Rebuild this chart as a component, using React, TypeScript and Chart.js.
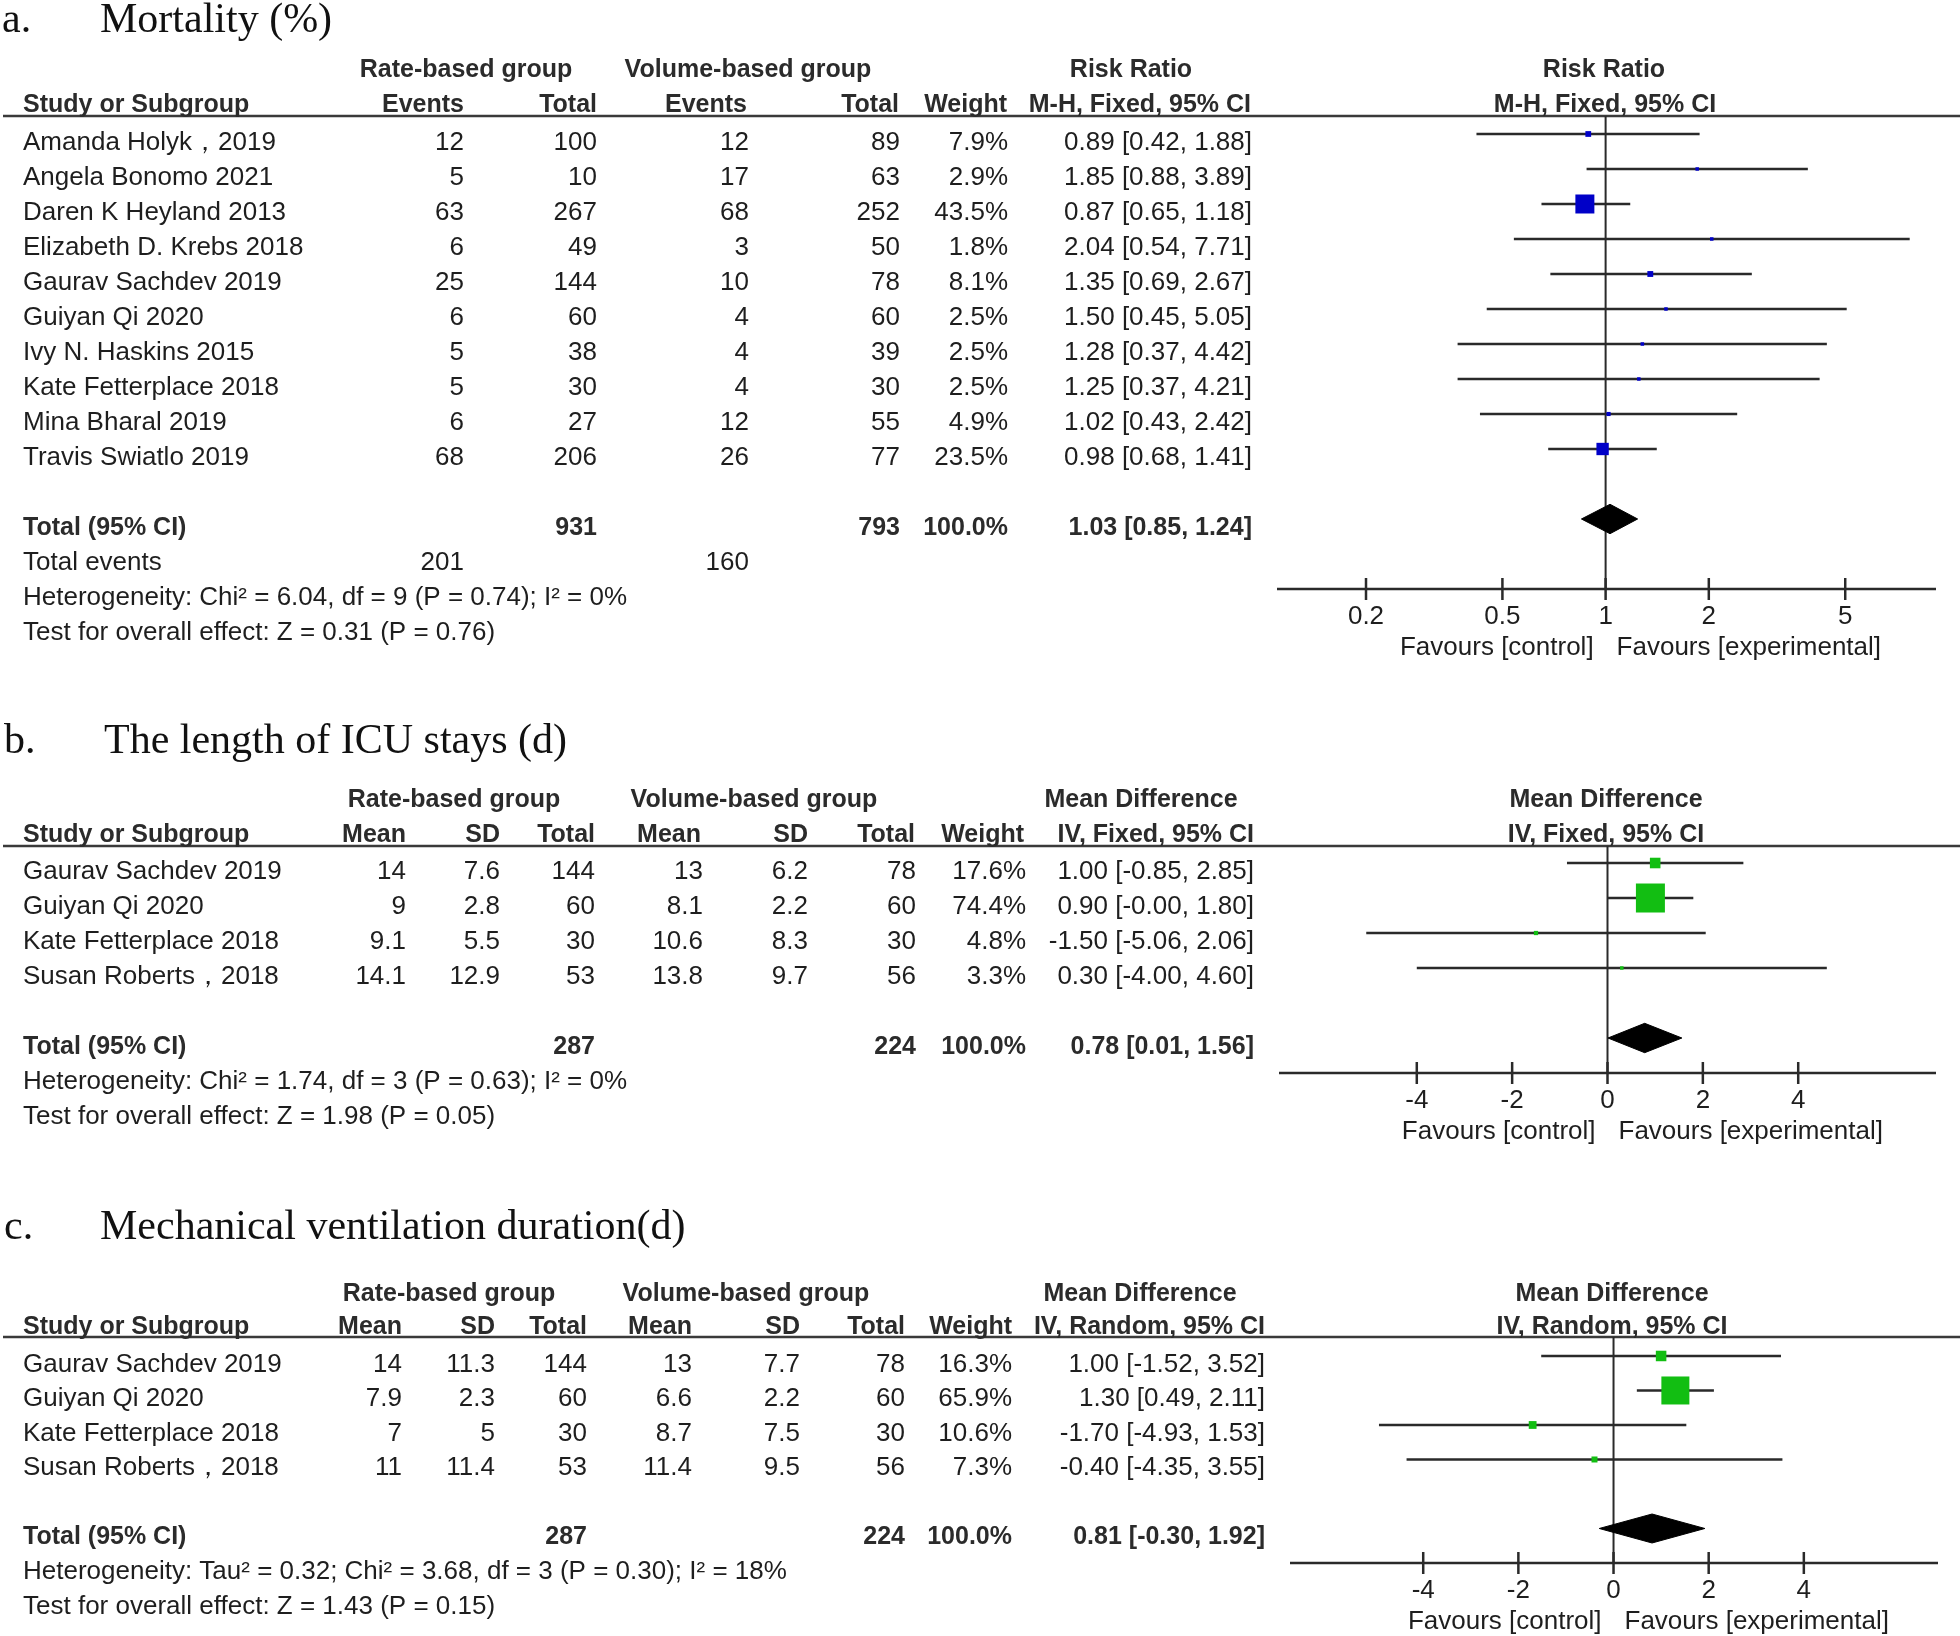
import React, { useEffect, useRef } from "react";
import { Chart, registerables } from "chart.js";

Chart.register(...registerables);

// ================= Panel a: Mortality (%) =================
const A_STUDIES = [
  "Amanda Holyk，2019",
  "Angela Bonomo 2021",
  "Daren K Heyland 2013",
  "Elizabeth D. Krebs 2018",
  "Gaurav Sachdev 2019",
  "Guiyan Qi 2020",
  "Ivy N. Haskins 2015",
  "Kate Fetterplace 2018",
  "Mina Bharal 2019",
  "Travis Swiatlo 2019",
];
const A_RATE_EVENTS = [12, 5, 63, 6, 25, 6, 5, 5, 6, 68];
const A_RATE_TOTAL = [100, 10, 267, 49, 144, 60, 38, 30, 27, 206];
const A_VOL_EVENTS = [12, 17, 68, 3, 10, 4, 4, 4, 12, 26];
const A_VOL_TOTAL = [89, 63, 252, 50, 78, 60, 39, 30, 55, 77];
const A_WEIGHT = [7.9, 2.9, 43.5, 1.8, 8.1, 2.5, 2.5, 2.5, 4.9, 23.5];
const A_RR = [0.89, 1.85, 0.87, 2.04, 1.35, 1.5, 1.28, 1.25, 1.02, 0.98];
const A_LO = [0.42, 0.88, 0.65, 0.54, 0.69, 0.45, 0.37, 0.37, 0.43, 0.68];
const A_HI = [1.88, 3.89, 1.18, 7.71, 2.67, 5.05, 4.42, 4.21, 2.42, 1.41];
const A_POOLED = [1.03, 0.85, 1.24];
const A_TOTALS = [931, 793];
const A_TOTAL_EVENTS = [201, 160];
const A_TICKS = [0.2, 0.5, 1, 2, 5];
const A_HET = "Heterogeneity: Chi² = 6.04, df = 9 (P = 0.74); I² = 0%";
const A_TEST = "Test for overall effect: Z = 0.31 (P = 0.76)";

// ================= Panel b: The length of ICU stays (d) =================
const B_STUDIES = ["Gaurav Sachdev 2019", "Guiyan Qi 2020", "Kate Fetterplace 2018", "Susan Roberts，2018"];
const B_RATE_MEAN = [14, 9, 9.1, 14.1];
const B_RATE_SD = [7.6, 2.8, 5.5, 12.9];
const B_RATE_TOTAL = [144, 60, 30, 53];
const B_VOL_MEAN = [13, 8.1, 10.6, 13.8];
const B_VOL_SD = [6.2, 2.2, 8.3, 9.7];
const B_VOL_TOTAL = [78, 60, 30, 56];
const B_WEIGHT = [17.6, 74.4, 4.8, 3.3];
const B_MD = [1.0, 0.9, -1.5, 0.3];
const B_LO = [-0.85, -0.004, -5.06, -4.0];
const B_HI = [2.85, 1.8, 2.06, 4.6];
const B_POOLED = [0.78, 0.01, 1.56];
const B_TOTALS = [287, 224];
const B_TICKS = [-4, -2, 0, 2, 4];
const B_HET = "Heterogeneity: Chi² = 1.74, df = 3 (P = 0.63); I² = 0%";
const B_TEST = "Test for overall effect: Z = 1.98 (P = 0.05)";

// ================= Panel c: Mechanical ventilation duration(d) =================
const C_STUDIES = ["Gaurav Sachdev 2019", "Guiyan Qi 2020", "Kate Fetterplace 2018", "Susan Roberts，2018"];
const C_RATE_MEAN = [14, 7.9, 7, 11];
const C_RATE_SD = [11.3, 2.3, 5, 11.4];
const C_RATE_TOTAL = [144, 60, 30, 53];
const C_VOL_MEAN = [13, 6.6, 8.7, 11.4];
const C_VOL_SD = [7.7, 2.2, 7.5, 9.5];
const C_VOL_TOTAL = [78, 60, 30, 56];
const C_WEIGHT = [16.3, 65.9, 10.6, 7.3];
const C_MD = [1.0, 1.3, -1.7, -0.4];
const C_LO = [-1.52, 0.49, -4.93, -4.35];
const C_HI = [3.52, 2.11, 1.53, 3.55];
const C_POOLED = [0.81, -0.3, 1.92];
const C_TOTALS = [287, 224];
const C_TICKS = [-4, -2, 0, 2, 4];
const C_HET = "Heterogeneity: Tau² = 0.32; Chi² = 3.68, df = 3 (P = 0.30); I² = 18%";
const C_TEST = "Test for overall effect: Z = 1.43 (P = 0.15)";

// ================= styling =================
const SANS = '"Liberation Sans", Arial, sans-serif';
const REG = `26px ${SANS}`;
const BOLD = `bold 25px ${SANS}`;
const TITLE_FONT = `42px "Liberation Serif", "Times New Roman", serif`;
const INK = "#1e1e1e";
const LINE = "#2a2a2a";

const ci = (e: number, l: number, h: number) => `${e.toFixed(2)} [${l.toFixed(2)}, ${h.toFixed(2)}]`;
const pct = (w: number) => `${w.toFixed(1)}%`;

type Cell = [string, number, CanvasTextAlign];

interface Spec {
  top: number;
  height: number;
  pad: { left: number; right: number; top: number; bottom: number };
  xType: "logarithmic" | "linear";
  xMin: number;
  xMax: number;
  yMin: number;
  yMax: number;
  ticks: number[];
  nullValue: number;
  color: string;
  maxSide: number;
  est: number[];
  lo: number[];
  hi: number[];
  weight: number[];
  pooled: number[];
  totalRow: number;
  letter: string;
  letterX: number;
  title: string;
  titleX: number;
  titleBase: number;
  head1Off: number;
  head2Off: number;
  head1: Cell[];
  head2: Cell[];
  rows: string[][];
  colX: number[];
  totalCells: Cell[];
  extra: { row: number; cells: Cell[] }[];
}

const SPEC_A: Spec = {
  top: 0,
  height: 700,
  pad: { left: 1277, right: 24, top: 116, bottom: 111 },
  xType: "logarithmic",
  xMin: 0.11,
  xMax: 9.2,
  yMin: -0.514,
  yMax: 13,
  ticks: A_TICKS,
  nullValue: 1,
  color: "#0000C8",
  maxSide: 19,
  est: A_RR,
  lo: A_LO,
  hi: A_HI,
  weight: A_WEIGHT,
  pooled: A_POOLED,
  totalRow: 11,
  letter: "a.",
  letterX: 2,
  title: "Mortality (%)",
  titleX: 100,
  titleBase: 32,
  head1Off: 39,
  head2Off: 4,
  head1: [
    ["Rate-based group", 466, "center"],
    ["Volume-based group", 748, "center"],
    ["Risk Ratio", 1131, "center"],
    ["Risk Ratio", 1604, "center"],
  ],
  head2: [
    ["Study or Subgroup", 23, "left"],
    ["Events", 464, "right"],
    ["Total", 597, "right"],
    ["Events", 747, "right"],
    ["Total", 899, "right"],
    ["Weight", 1007, "right"],
    ["M-H, Fixed, 95% CI", 1251, "right"],
    ["M-H, Fixed, 95% CI", 1605, "center"],
  ],
  rows: A_STUDIES.map((s, i) => [
    s,
    String(A_RATE_EVENTS[i]),
    String(A_RATE_TOTAL[i]),
    String(A_VOL_EVENTS[i]),
    String(A_VOL_TOTAL[i]),
    pct(A_WEIGHT[i]),
    ci(A_RR[i], A_LO[i], A_HI[i]),
  ]),
  colX: [23, 464, 597, 749, 900, 1008, 1252],
  totalCells: [
    ["Total (95% CI)", 23, "left"],
    [String(A_TOTALS[0]), 597, "right"],
    [String(A_TOTALS[1]), 900, "right"],
    ["100.0%", 1008, "right"],
    [ci(A_POOLED[0], A_POOLED[1], A_POOLED[2]), 1252, "right"],
  ],
  extra: [
    {
      row: 12,
      cells: [
        ["Total events", 23, "left"],
        [String(A_TOTAL_EVENTS[0]), 464, "right"],
        [String(A_TOTAL_EVENTS[1]), 749, "right"],
      ],
    },
    { row: 13, cells: [[A_HET, 23, "left"]] },
    { row: 14, cells: [[A_TEST, 23, "left"]] },
  ],
};

const SPEC_B: Spec = {
  top: 700,
  height: 480,
  pad: { left: 1279, right: 24, top: 146, bottom: 107 },
  xType: "linear",
  xMin: -6.89,
  xMax: 6.89,
  yMin: -0.486,
  yMax: 6,
  ticks: B_TICKS,
  nullValue: 0,
  color: "#12BE12",
  maxSide: 29,
  est: B_MD,
  lo: B_LO,
  hi: B_HI,
  weight: B_WEIGHT,
  pooled: B_POOLED,
  totalRow: 5,
  letter: "b.",
  letterX: 4,
  title: "The length of ICU stays (d)",
  titleX: 104,
  titleBase: 53,
  head1Off: 39,
  head2Off: 4,
  head1: [
    ["Rate-based group", 454, "center"],
    ["Volume-based group", 754, "center"],
    ["Mean Difference", 1141, "center"],
    ["Mean Difference", 1606, "center"],
  ],
  head2: [
    ["Study or Subgroup", 23, "left"],
    ["Mean", 406, "right"],
    ["SD", 500, "right"],
    ["Total", 595, "right"],
    ["Mean", 701, "right"],
    ["SD", 808, "right"],
    ["Total", 915, "right"],
    ["Weight", 1024, "right"],
    ["IV, Fixed, 95% CI", 1254, "right"],
    ["IV, Fixed, 95% CI", 1606, "center"],
  ],
  rows: B_STUDIES.map((s, i) => [
    s,
    String(B_RATE_MEAN[i]),
    String(B_RATE_SD[i]),
    String(B_RATE_TOTAL[i]),
    String(B_VOL_MEAN[i]),
    String(B_VOL_SD[i]),
    String(B_VOL_TOTAL[i]),
    pct(B_WEIGHT[i]),
    ci(B_MD[i], B_LO[i], B_HI[i]),
  ]),
  colX: [23, 406, 500, 595, 703, 808, 916, 1026, 1254],
  totalCells: [
    ["Total (95% CI)", 23, "left"],
    [String(B_TOTALS[0]), 595, "right"],
    [String(B_TOTALS[1]), 916, "right"],
    ["100.0%", 1026, "right"],
    [ci(B_POOLED[0], B_POOLED[1], B_POOLED[2]), 1254, "right"],
  ],
  extra: [
    { row: 6, cells: [[B_HET, 23, "left"]] },
    { row: 7, cells: [[B_TEST, 23, "left"]] },
  ],
};

const SPEC_C: Spec = {
  top: 1180,
  height: 456,
  pad: { left: 1290, right: 22, top: 157, bottom: 73 },
  xType: "linear",
  xMin: -6.8,
  xMax: 6.82,
  yMin: -0.55,
  yMax: 6,
  ticks: C_TICKS,
  nullValue: 0,
  color: "#12BE12",
  maxSide: 28,
  est: C_MD,
  lo: C_LO,
  hi: C_HI,
  weight: C_WEIGHT,
  pooled: C_POOLED,
  totalRow: 5,
  letter: "c.",
  letterX: 4,
  title: "Mechanical ventilation duration(d)",
  titleX: 100,
  titleBase: 59,
  head1Off: 36,
  head2Off: 3,
  head1: [
    ["Rate-based group", 449, "center"],
    ["Volume-based group", 746, "center"],
    ["Mean Difference", 1140, "center"],
    ["Mean Difference", 1612, "center"],
  ],
  head2: [
    ["Study or Subgroup", 23, "left"],
    ["Mean", 402, "right"],
    ["SD", 495, "right"],
    ["Total", 587, "right"],
    ["Mean", 692, "right"],
    ["SD", 800, "right"],
    ["Total", 905, "right"],
    ["Weight", 1012, "right"],
    ["IV, Random, 95% CI", 1265, "right"],
    ["IV, Random, 95% CI", 1612, "center"],
  ],
  rows: C_STUDIES.map((s, i) => [
    s,
    String(C_RATE_MEAN[i]),
    String(C_RATE_SD[i]),
    String(C_RATE_TOTAL[i]),
    String(C_VOL_MEAN[i]),
    String(C_VOL_SD[i]),
    String(C_VOL_TOTAL[i]),
    pct(C_WEIGHT[i]),
    ci(C_MD[i], C_LO[i], C_HI[i]),
  ]),
  colX: [23, 402, 495, 587, 692, 800, 905, 1012, 1265],
  totalCells: [
    ["Total (95% CI)", 23, "left"],
    [String(C_TOTALS[0]), 587, "right"],
    [String(C_TOTALS[1]), 905, "right"],
    ["100.0%", 1012, "right"],
    [ci(C_POOLED[0], C_POOLED[1], C_POOLED[2]), 1265, "right"],
  ],
  extra: [
    { row: 6, cells: [[C_HET, 23, "left"]] },
    { row: 7, cells: [[C_TEST, 23, "left"]] },
  ],
};

function buildConfig(s: Spec): any {
  const wmax = Math.max(...s.weight);
  const ciSets = s.est.map((_, i) => ({
    type: "scatter",
    showLine: true,
    data: [
      { x: s.lo[i], y: i },
      { x: s.hi[i], y: i },
    ],
    borderColor: LINE,
    borderWidth: 2.5,
    pointRadius: 0,
    fill: false,
    order: 2,
  }));
  const squares = {
    type: "scatter",
    data: s.est.map((v, i) => ({ x: v, y: i })),
    pointStyle: "rect",
    pointRadius: s.weight.map((w) => Math.max(3.5, s.maxSide * Math.pow(w / wmax, 0.7)) / Math.SQRT2),
    pointBackgroundColor: s.color,
    backgroundColor: s.color,
    pointBorderWidth: 0,
    borderWidth: 0,
    order: 0,
  };
  const [pe, pl, ph] = s.pooled;
  const T = s.totalRow;
  const h = 0.42;
  const diamond = {
    type: "scatter",
    showLine: true,
    data: [
      { x: pl, y: T },
      { x: pe, y: T - h },
      { x: ph, y: T },
      { x: pe, y: T + h },
      { x: pl, y: T },
    ],
    borderColor: "#000",
    backgroundColor: "#000",
    borderWidth: 1,
    pointRadius: 0,
    fill: "shape",
    order: 1,
  };

  const plugin = {
    id: "forestText",
    beforeDatasetsDraw(chart: any) {
      const { ctx, chartArea: ca, scales } = chart;
      const x = scales.x;
      const seg = (x1: number, y1: number, x2: number, y2: number) => {
        ctx.beginPath();
        ctx.moveTo(x1, y1);
        ctx.lineTo(x2, y2);
        ctx.stroke();
      };
      ctx.save();
      ctx.strokeStyle = "#3a3a3a";
      ctx.lineWidth = 2.5;
      seg(3, ca.top, 1960, ca.top);
      ctx.strokeStyle = LINE;
      seg(ca.left, ca.bottom, ca.right, ca.bottom);
      const zx = x.getPixelForValue(s.nullValue);
      ctx.lineWidth = 2;
      seg(zx, ca.top, zx, ca.bottom);
      ctx.lineWidth = 2.5;
      ctx.fillStyle = INK;
      ctx.font = REG;
      ctx.textBaseline = "alphabetic";
      s.ticks.forEach((t) => {
        const px = x.getPixelForValue(t);
        seg(px, ca.bottom - 11, px, ca.bottom + 11);
        ctx.textAlign = "center";
        ctx.fillText(String(t), px, ca.bottom + 35);
      });
      ctx.textAlign = "right";
      ctx.fillText("Favours [control]", zx - 12, ca.bottom + 66);
      ctx.textAlign = "left";
      ctx.fillText("Favours [experimental]", zx + 11, ca.bottom + 66);
      ctx.restore();
    },
    afterDraw(chart: any) {
      const { ctx, chartArea: ca, scales } = chart;
      const y = scales.y;
      const txt = (t: string, px: number, py: number, al: CanvasTextAlign, font: string) => {
        ctx.font = font;
        ctx.textAlign = al;
        ctx.fillText(t, px, py);
      };
      ctx.save();
      ctx.textBaseline = "alphabetic";
      ctx.fillStyle = "#111";
      txt(s.letter, s.letterX, s.titleBase, "left", TITLE_FONT);
      txt(s.title, s.titleX, s.titleBase, "left", TITLE_FONT);
      ctx.fillStyle = "#2b2b2b";
      s.head1.forEach(([t, px, al]) => txt(t, px, ca.top - s.head1Off, al, BOLD));
      s.head2.forEach(([t, px, al]) => txt(t, px, ca.top - s.head2Off, al, BOLD));
      ctx.fillStyle = INK;
      s.rows.forEach((cells, i) => {
        const py = y.getPixelForValue(i) + 16;
        cells.forEach((c, j) => txt(c, s.colX[j], py, j === 0 ? "left" : "right", REG));
      });
      ctx.fillStyle = "#2b2b2b";
      const ty = y.getPixelForValue(s.totalRow) + 16;
      s.totalCells.forEach(([t, px, al]) => txt(t, px, ty, al, BOLD));
      ctx.fillStyle = INK;
      s.extra.forEach((r) => {
        const py = y.getPixelForValue(r.row) + 16;
        r.cells.forEach(([t, px, al]) => txt(t, px, py, al, REG));
      });
      ctx.restore();
    },
  };

  return {
    type: "scatter",
    data: { datasets: [...ciSets, diamond, squares] },
    options: {
      responsive: false,
      maintainAspectRatio: false,
      animation: false,
      events: [],
      layout: { padding: s.pad },
      plugins: { legend: { display: false }, tooltip: { enabled: false } },
      scales: {
        x: { type: s.xType, min: s.xMin, max: s.xMax, display: false },
        y: { type: "linear", reverse: true, min: s.yMin, max: s.yMax, display: false },
      },
    },
    plugins: [plugin],
  };
}

function Panel({ spec }: { spec: Spec }) {
  const ref = useRef<HTMLCanvasElement>(null);
  useEffect(() => {
    const chart = new Chart(ref.current as HTMLCanvasElement, buildConfig(spec));
    return () => chart.destroy();
  }, [spec]);
  return (
    <canvas
      ref={ref}
      width={1960}
      height={spec.height}
      style={{ position: "absolute", left: 0, top: spec.top, width: 1960, height: spec.height }}
    />
  );
}

export default function App() {
  return (
    <div style={{ position: "absolute", left: 0, top: 0, width: 1960, height: 1636, background: "#fff", overflow: "hidden" }}>
      <Panel spec={SPEC_A} />
      <Panel spec={SPEC_B} />
      <Panel spec={SPEC_C} />
    </div>
  );
}
